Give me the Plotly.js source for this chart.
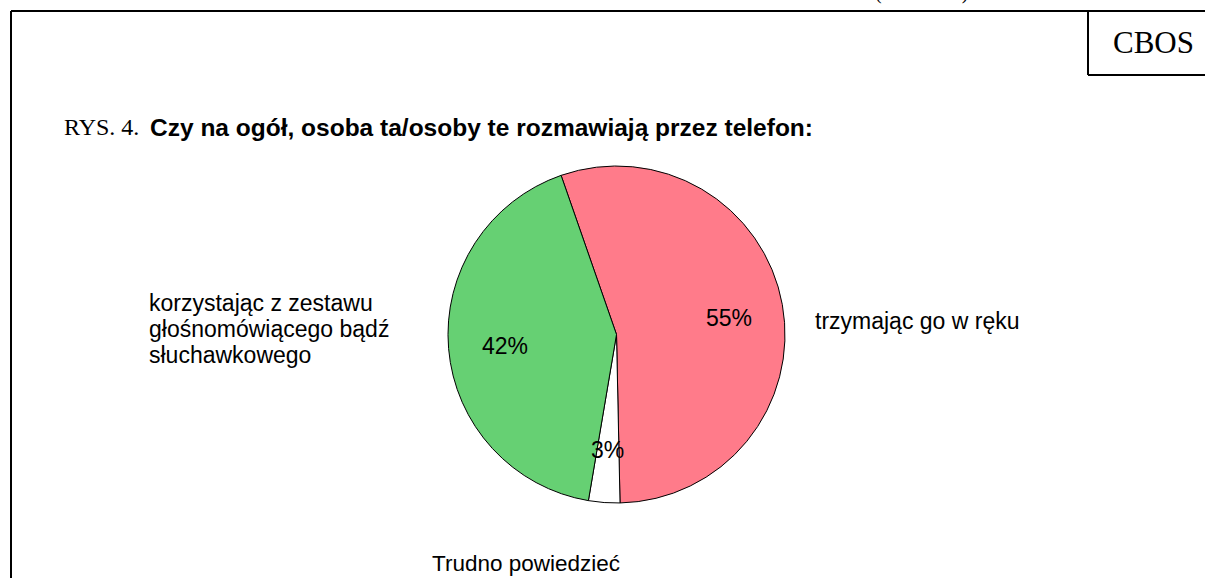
<!DOCTYPE html>
<html>
<head>
<meta charset="utf-8">
<script src="https://cdn.plot.ly/plotly-3.0.1.min.js"></script>
<style>
  html, body { margin: 0; padding: 0; background: #fff; }
  #chart { width: 1205px; height: 578px; }
</style>
</head>
<body>
<div id="chart"></div>
<script>
// answers, clockwise from the top
var answers = ['trzymając go w ręku', 'Trudno powiedzieć', 'korzystając z zestawu<br>głośnomówiącego bądź<br>słuchawkowego'];
var shares = [55, 3, 42];
var sliceColors = ['#ff7b8a', '#ffffff', '#66d073'];

var W = 1205, H = 578;
// pixel -> paper helpers
function px(x) { return x / W; }
function py(y) { return 1 - y / H; }

var trace = {
  type: 'pie',
  labels: answers,
  values: shares,
  sort: false,
  direction: 'clockwise',
  rotation: -19.2,
  marker: { colors: sliceColors, line: { color: '#000', width: 1 } },
  textinfo: 'none',
  domain: { x: [px(448), px(785)], y: [py(503), py(166)] },
  hoverinfo: 'label+percent',
  showlegend: false
};

var sans = 'Liberation Sans, Arial, sans-serif';
var serif = 'Liberation Serif, Times New Roman, serif';

function note(text, x, y, anchor, font) {
  return { text: text, x: px(x), y: py(y), xanchor: anchor, yanchor: 'middle',
           xref: 'paper', yref: 'paper', showarrow: false, align: 'left', font: font };
}
var labelFont = { family: sans, size: 23, color: '#000' };

var annotations = [
  note('(           .    )', 922, -8, 'center', { family: serif, size: 20, color: '#000' }),
  note('CBOS', 1153, 42, 'center', { family: serif, size: 31, color: '#000' }),
  note('RYS. 4.', 62, 127, 'left', { family: serif, size: 24, color: '#000' }),
  note('<b>Czy na ogół, osoba ta/osoby te rozmawiają przez telefon:</b>', 148, 127, 'left',
       { family: sans, size: 24.5, color: '#000' }),
  // percentages inside the slices
  note(shares[0] + '%', 729, 318, 'center', labelFont),
  note(shares[1] + '%', 607, 450, 'center', labelFont),
  note(shares[2] + '%', 505, 346, 'center', labelFont),
  // category labels
  note(answers[0], 813, 321, 'left', labelFont),
  note(answers[1], 526, 563, 'center', { family: sans, size: 22.5, color: '#000' })
];
answers[2].split('<br>').forEach(function (line, i) {
  annotations.push(note(line, 147, 303 + i * 26, 'left', labelFont));
});

var frame = { color: '#000', width: 2 };
var shapes = [
  { type: 'line', x0: px(11), x1: px(1205), y0: py(11), y1: py(11), line: frame },
  { type: 'line', x0: px(11), x1: px(11), y0: py(11), y1: py(580), line: frame },
  { type: 'line', x0: px(1088), x1: px(1088), y0: py(11), y1: py(75), line: frame },
  { type: 'line', x0: px(1088), x1: px(1205), y0: py(75), y1: py(75), line: frame }
];
shapes.forEach(function (s) { s.xref = 'paper'; s.yref = 'paper'; });

var layout = {
  width: W,
  height: H,
  margin: { l: 0, r: 0, t: 0, b: 0 },
  paper_bgcolor: '#fff',
  plot_bgcolor: '#fff',
  showlegend: false,
  annotations: annotations,
  shapes: shapes
};

Plotly.newPlot('chart', [trace], layout, { staticPlot: true });
</script>
</body>
</html>
